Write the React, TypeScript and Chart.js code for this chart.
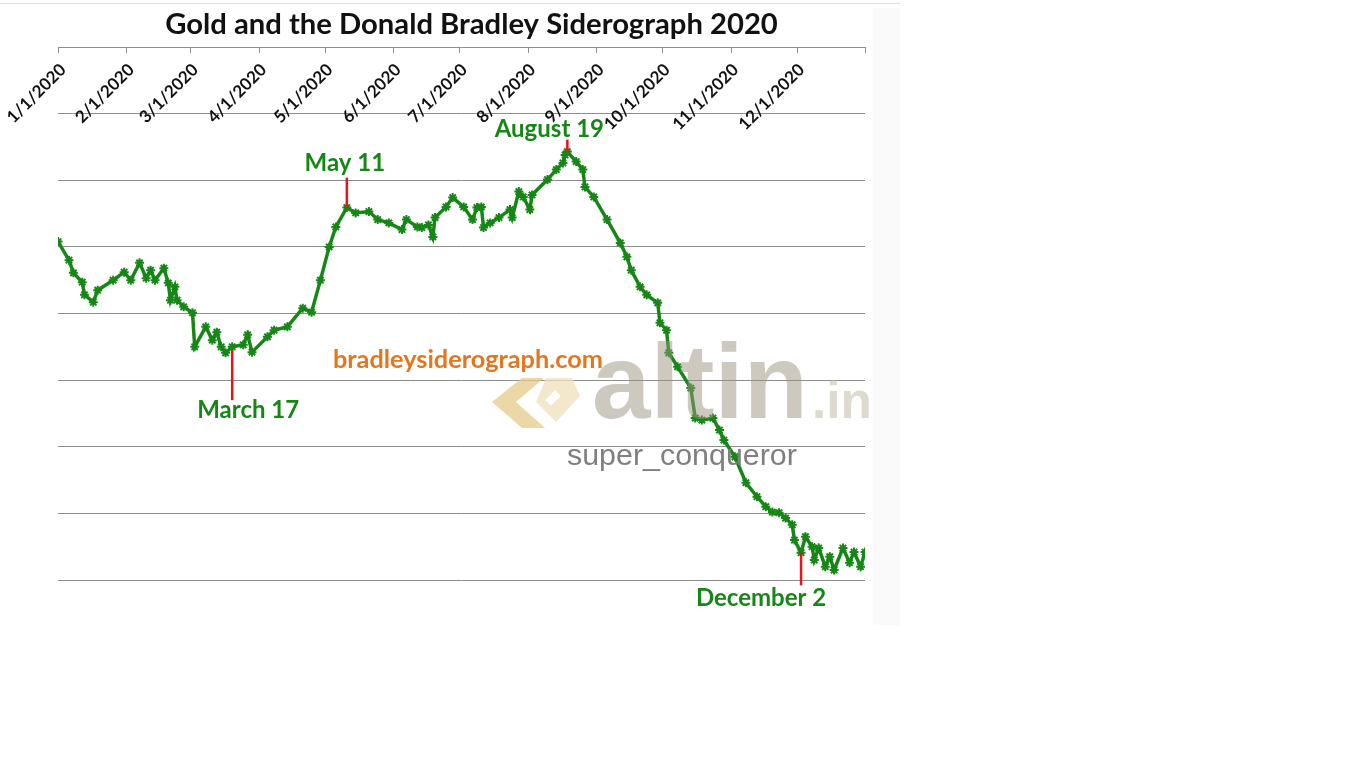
import React, { useEffect, useRef } from "react";
import { Chart, registerables } from "chart.js";

Chart.register(...registerables);

// ---- data ----
const TITLE = "Gold and the Donald Bradley Siderograph 2020";

// day of year (0 = 1 Jan 2020)
const days = [0, 5, 7, 11, 12, 16, 18, 25, 30, 33, 37, 40, 42, 44, 48, 50, 51, 53, 54, 57, 61, 62, 67, 70, 72, 74, 76, 79, 84, 86, 88, 95, 98, 104, 111, 115, 119, 123, 126, 131, 135, 141, 145, 150, 156, 158, 163, 165, 168, 170, 171, 176, 179, 184, 188, 190, 192, 193, 196, 200, 205, 206, 209, 211, 214, 215, 222, 226, 229, 230, 231, 235, 238, 239, 243, 249, 255, 258, 260, 264, 267, 272, 273, 276, 277, 281, 287, 289, 292, 297, 300, 302, 307, 312, 317, 321, 324, 327, 330, 333, 334, 337, 339, 342, 343, 345, 348, 350, 352, 356, 359, 361, 364, 366];

// siderograph value (relative units, 8 gridline bands)
const values = [5.08, 4.8, 4.61, 4.47, 4.28, 4.17, 4.35, 4.5, 4.62, 4.5, 4.76, 4.53, 4.65, 4.5, 4.68, 4.46, 4.2, 4.4, 4.2, 4.1, 4.01, 3.5, 3.8, 3.6, 3.72, 3.5, 3.41, 3.5, 3.53, 3.68, 3.42, 3.65, 3.75, 3.8, 4.08, 4.02, 4.5, 5.0, 5.3, 5.59, 5.51, 5.53, 5.41, 5.36, 5.26, 5.41, 5.3, 5.29, 5.33, 5.15, 5.44, 5.6, 5.74, 5.6, 5.41, 5.59, 5.6, 5.29, 5.36, 5.44, 5.56, 5.44, 5.83, 5.75, 5.56, 5.78, 6.01, 6.16, 6.26, 6.38, 6.43, 6.28, 6.16, 5.9, 5.75, 5.41, 5.06, 4.85, 4.65, 4.4, 4.28, 4.16, 3.86, 3.75, 3.41, 3.2, 2.88, 2.43, 2.4, 2.43, 2.25, 2.1, 1.85, 1.46, 1.25, 1.1, 1.02, 1.01, 0.93, 0.83, 0.6, 0.41, 0.65, 0.5, 0.3, 0.48, 0.2, 0.35, 0.15, 0.48, 0.26, 0.42, 0.2, 0.42];

const monthDays = [0, 31, 60, 91, 121, 152, 182, 213, 244, 274, 305, 335];
const monthLabels = ["1/1/2020", "2/1/2020", "3/1/2020", "4/1/2020", "5/1/2020", "6/1/2020", "7/1/2020", "8/1/2020", "9/1/2020", "10/1/2020", "11/1/2020", "12/1/2020"];
const xEnd = 366;

const markerLabels = ["March 17", "May 11", "August 19", "December 2"];
const markerDays = [79, 131, 231, 337];
const markerTop = [3.45, 6.04, 6.61, 0.41];
const markerBottom = [2.7, 5.59, 6.43, -0.08];

const watermarkSite = "bradleysiderograph.com";
const watermarkBrand = "altin";
const watermarkBrandTld = ".in";
const watermarkUser = "super_conqueror";

// ---- styles ----
const GREEN = "#168716";
const GRID = "#8e8e8e";
const FONT = "Lato";
const labelPlacement = [
  { from: "bottom", dx: 16, dy: 18 },
  { from: "top", dx: -2, dy: -7 },
  { from: "top", dx: -18, dy: -3 },
  { from: "bottom", dx: -40, dy: 21 },
];

function fitSize(ctx: CanvasRenderingContext2D, text: string, weight: string, family: string, target: number) {
  ctx.font = `${weight} 100px ${family}`;
  const w = ctx.measureText(text).width;
  return (100 * target) / w;
}

const overlayPlugin = {
  id: "overlay",
  beforeDraw(chart: any) {
    const ctx: CanvasRenderingContext2D = chart.ctx;
    ctx.save();
    ctx.fillStyle = "#ffffff";
    ctx.fillRect(0, 0, chart.width, chart.height);
    ctx.fillStyle = "#fafafa";
    ctx.fillRect(873, 8, 27, 617);
    ctx.strokeStyle = "#dedede";
    ctx.lineWidth = 1;
    ctx.beginPath();
    ctx.moveTo(0, 3.5);
    ctx.lineTo(900, 3.5);
    ctx.stroke();
    ctx.restore();
  },
  afterDatasetsDraw(chart: any) {
    const ctx: CanvasRenderingContext2D = chart.ctx;
    ctx.save();
    // logo chevrons
    ctx.globalAlpha = 0.75;
    ctx.fillStyle = "#e6c98a";
    ctx.beginPath();
    [[522, 378], [492, 402], [522, 428], [545, 428], [516, 402], [544, 378]].forEach((p, i) => (i ? ctx.lineTo(p[0], p[1]) : ctx.moveTo(p[0], p[1])));
    ctx.closePath();
    ctx.fill();
    ctx.fillStyle = "#efdfbb";
    ctx.beginPath();
    [[546, 378], [572, 378], [580, 396], [556, 422], [536, 402]].forEach((p, i) => (i ? ctx.lineTo(p[0], p[1]) : ctx.moveTo(p[0], p[1])));
    ctx.closePath();
    ctx.fill();
    ctx.globalAlpha = 1;
    ctx.fillStyle = "#ffffff";
    ctx.translate(553, 398);
    ctx.rotate(-Math.PI / 4);
    ctx.fillRect(-7, -4, 14, 8);
    ctx.setTransform(1, 0, 0, 1, 0, 0);

    // brand watermark
    ctx.globalAlpha = 0.5;
    ctx.fillStyle = "#9d9480";
    ctx.textBaseline = "alphabetic";
    ctx.textAlign = "left";
    const bs = fitSize(ctx, watermarkBrand, "bold", '"Liberation Sans"', 216);
    ctx.font = `bold ${bs}px "Liberation Sans"`;
    ctx.fillText(watermarkBrand, 592, 418);
    ctx.fillStyle = "#bdb59e";
    const ts = fitSize(ctx, watermarkBrandTld, "bold", '"Liberation Sans"', 60);
    ctx.font = `bold ${ts}px "Liberation Sans"`;
    ctx.fillText(watermarkBrandTld, 812, 418);
    ctx.globalAlpha = 1;
    ctx.fillStyle = "#7f7f7f";
    const us = fitSize(ctx, watermarkUser, "normal", '"Liberation Sans"', 230);
    ctx.font = `${us}px "Liberation Sans"`;
    ctx.fillText(watermarkUser, 567, 465);

    // site watermark
    const s = fitSize(ctx, watermarkSite, "bold", FONT, 270);
    ctx.font = `bold ${s}px ${FONT}`;
    ctx.fillStyle = "#e2771f";
    ctx.fillText(watermarkSite, 333, 368);
    ctx.restore();
  },
  afterDraw(chart: any) {
    const ctx: CanvasRenderingContext2D = chart.ctx;
    const xs = chart.scales.x;
    const ys = chart.scales.y;
    const top = chart.chartArea.top;
    ctx.save();
    // tick marks on top axis
    ctx.strokeStyle = GRID;
    ctx.lineWidth = 1;
    [...monthDays, xEnd].forEach((d) => {
      const x = Math.round(xs.getPixelForValue(d)) + 0.5;
      ctx.beginPath();
      ctx.moveTo(x, top);
      ctx.lineTo(x, top + 6);
      ctx.stroke();
    });
    // month labels
    ctx.fillStyle = "#111111";
    ctx.font = `bold 17px ${FONT}`;
    ctx.textAlign = "right";
    ctx.textBaseline = "top";
    monthDays.forEach((d, i) => {
      const x = xs.getPixelForValue(d);
      ctx.save();
      ctx.translate(x - 1, top + 14);
      ctx.rotate(-Math.PI / 4);
      ctx.fillText(monthLabels[i], 0, 0);
      ctx.restore();
    });
    // title
    const tsz = fitSize(ctx, TITLE, "bold", FONT, 613);
    ctx.font = `bold ${tsz}px ${FONT}`;
    ctx.textAlign = "center";
    ctx.textBaseline = "alphabetic";
    ctx.fillStyle = "#111111";
    ctx.fillText(TITLE, 471.5, 34);

    // markers
    markerDays.forEach((d, i) => {
      const x = xs.getPixelForValue(d);
      const yTop = ys.getPixelForValue(markerTop[i]);
      const yBot = ys.getPixelForValue(markerBottom[i]);
      ctx.strokeStyle = "#e8141c";
      ctx.lineWidth = 2.5;
      ctx.beginPath();
      ctx.moveTo(x, yTop);
      ctx.lineTo(x, yBot);
      ctx.stroke();
      const p = labelPlacement[i];
      const base = p.from === "top" ? yTop : yBot;
      ctx.font = `bold 24px ${FONT}`;
      ctx.fillStyle = GREEN;
      ctx.textAlign = "center";
      ctx.textBaseline = "alphabetic";
      ctx.fillText(markerLabels[i], x + p.dx, base + p.dy);
    });
    ctx.restore();
  },
};

export default function App() {
  const ref = useRef<HTMLCanvasElement | null>(null);
  useEffect(() => {
    if (!ref.current) return;
    const chart = new Chart(ref.current, {
      type: "line",
      data: {
        datasets: [
          {
            data: days.map((d, i) => ({ x: d, y: values[i] })),
            borderColor: GREEN,
            backgroundColor: GREEN,
            borderWidth: 3.5,
            pointStyle: "star",
            pointRadius: 4.5,
            pointBorderWidth: 2,
            pointBorderColor: GREEN,
            tension: 0,
          },
        ],
      },
      options: {
        animation: false,
        responsive: true,
        maintainAspectRatio: false,
        layout: { padding: { left: 58, right: 35, top: 47, bottom: 48 } },
        plugins: { legend: { display: false }, tooltip: { enabled: false }, title: { display: false } },
        scales: {
          x: { type: "linear", min: 0, max: xEnd, display: false },
          y: {
            min: 0,
            max: 8,
            ticks: { display: false, stepSize: 1 },
            border: { display: false },
            grid: { color: GRID, lineWidth: 1, drawTicks: false },
          },
        },
      },
      plugins: [overlayPlugin],
    });
    return () => chart.destroy();
  }, []);
  return (
    <div style={{ position: "absolute", left: 0, top: 0, width: 900, height: 628 }}>
      <canvas ref={ref} />
    </div>
  );
}
